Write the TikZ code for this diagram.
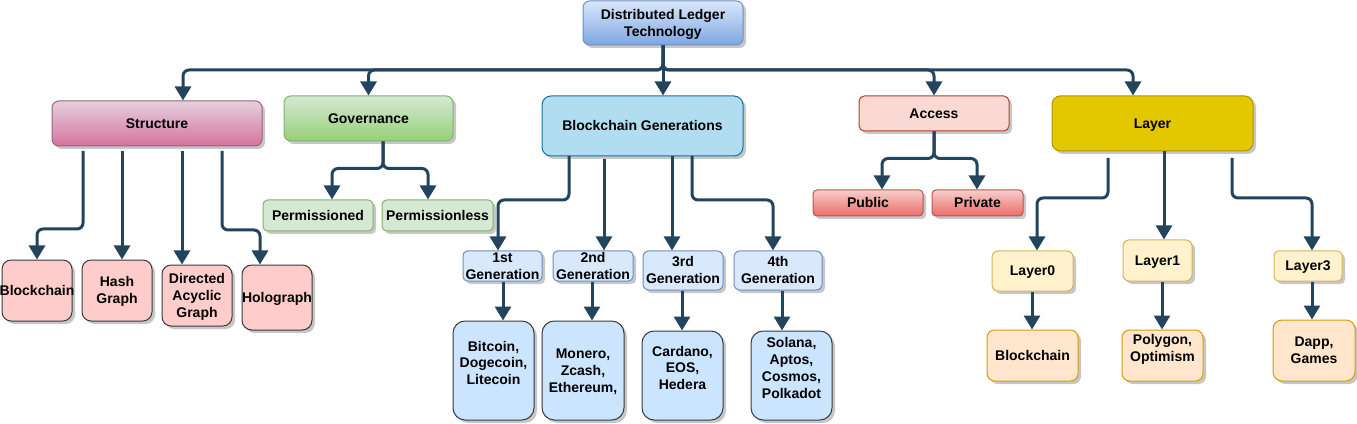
\documentclass[tikz,border=0pt]{standalone}
\usepackage{fontspec}
\setmainfont{Liberation Sans}
\usetikzlibrary{shadows,arrows.meta,calc}
\definecolor{lineC}{HTML}{23445D}
\definecolor{rootT}{HTML}{DAE8FC}\definecolor{rootB}{HTML}{7EA6E0}\definecolor{rootD}{HTML}{6C8EBF}
\definecolor{stT}{HTML}{E6D0DE}\definecolor{stB}{HTML}{D5739D}\definecolor{stD}{HTML}{996185}
\definecolor{gvT}{HTML}{D5E8D4}\definecolor{gvB}{HTML}{97D077}\definecolor{gvD}{HTML}{82B366}
\definecolor{bgF}{HTML}{B1DDF0}\definecolor{bgD}{HTML}{10739E}
\definecolor{acF}{HTML}{FAD9D5}\definecolor{acD}{HTML}{AE4132}
\definecolor{lyF}{HTML}{E3C800}\definecolor{lyD}{HTML}{B09500}
\definecolor{puT}{HTML}{F8CECC}\definecolor{puB}{HTML}{EA6B66}\definecolor{puD}{HTML}{B85450}
\definecolor{scF}{HTML}{FFCCCC}\definecolor{dkD}{HTML}{36393D}
\definecolor{gnF}{HTML}{DAE8FC}\definecolor{gnD}{HTML}{6C8EBF}
\definecolor{gcF}{HTML}{CCE5FF}
\definecolor{l2F}{HTML}{FFF2CC}\definecolor{l2D}{HTML}{D6B656}
\definecolor{l3F}{HTML}{FFE6CC}\definecolor{l3D}{HTML}{D79B00}
\newcommand\mkbox[8]{%
  \pgfmathsetmacro\rr{min(#5,#6)*0.1125}%
  \node[#1, rounded corners=\rr pt, minimum width=#5*0.75pt, minimum height=#6*0.75pt] (#2) at (#3,#4) {};
  \node[txt] (#2-t) at (#3,#4+#8) {\rule{0pt}{9.5pt}#7\rule[-2.226pt]{0pt}{0pt}};}
\begin{document}
\begin{tikzpicture}[x=0.75pt,y=-0.75pt,
  conn/.style={draw=lineC, line width=2.25pt, rounded corners=4.5pt, -{Triangle[width=12pt,length=10.5pt]}},
  bshape/.style={draw, line width=0.75pt, inner sep=0pt,
    drop shadow={shadow xshift=2.25pt,shadow yshift=-2.25pt,fill=black,opacity=0.22}},
  txt/.style={font=\fontsize{10.5pt}{12.6pt}\selectfont\bfseries, align=center, inner sep=0pt},
  rootS/.style={bshape, top color=rootT, bottom color=rootB, draw=rootD},
  stS/.style={bshape, top color=stT, bottom color=stB, draw=stD},
  gvS/.style={bshape, top color=gvT, bottom color=gvB, draw=gvD},
  bgS/.style={bshape, fill=bgF, draw=bgD},
  acS/.style={bshape, fill=acF, draw=acD},
  lyS/.style={bshape, fill=lyF, draw=lyD},
  pmS/.style={bshape, fill=gvT, draw=gvD},
  puS/.style={bshape, top color=puT, bottom color=puB, draw=puD},
  scS/.style={bshape, fill=scF, draw=dkD},
  gnS/.style={bshape, fill=gnF, draw=gnD},
  gcS/.style={bshape, fill=gcF, draw=dkD},
  l2S/.style={bshape, fill=l2F, draw=l2D},
  l3S/.style={bshape, fill=l3F, draw=l3D}]
\useasboundingbox (0,0) rectangle (1357,424);

% ---- boxes
\mkbox{rootS}{root}{663}{23}{160}{44}{Distributed Ledger\\Technology}{0}
\mkbox{stS}{structure}{157}{123.5}{210}{45}{Structure}{0}
\mkbox{gvS}{gov}{368.5}{118.5}{169}{45}{Governance}{0}
\mkbox{bgS}{bg}{642.5}{126}{201}{60}{Blockchain Generations}{0}
\mkbox{acS}{access}{934}{113.5}{150}{35}{Access}{0}
\mkbox{lyS}{layer}{1152.5}{123.5}{201}{55}{Layer}{0}

\mkbox{pmS}{perm1}{318}{215.5}{110}{31}{Permissioned}{0}
\mkbox{pmS}{perm2}{437.5}{215.5}{111}{31}{Permissionless}{0}
\mkbox{puS}{public}{868}{203}{110}{26}{Public}{0}
\mkbox{puS}{private}{977.5}{203}{91}{26}{Private}{0}

\mkbox{scS}{sc1}{37}{290.5}{70}{61}{Blockchain}{0}
\mkbox{scS}{sc2}{117}{290.5}{70}{61}{Hash\\Graph}{0}
\mkbox{scS}{sc3}{197}{295.5}{70}{61}{Directed\\Acyclic\\Graph}{0}
\mkbox{scS}{sc4}{277}{297.5}{70}{65}{Holograph}{0}

\mkbox{gnS}{g1}{502.5}{266}{79}{30}{1st\\Generation}{0}
\mkbox{gnS}{g2}{593}{266}{80}{30}{2nd\\Generation}{0}
\mkbox{gnS}{g3}{683}{270.5}{80}{39}{3rd\\Generation}{0}
\mkbox{gnS}{g4}{778}{270.5}{88}{39}{4th\\Generation}{0}

\mkbox{gcS}{c1}{493.5}{370.5}{81}{99}{Bitcoin,\\Dogecoin,\\Litecoin}{-7.5}
\mkbox{gcS}{c2}{583}{370.5}{82}{99}{Monero,\\Zcash,\\Ethereum,}{0}
\mkbox{gcS}{c3}{682.5}{375.5}{81}{89}{Cardano,\\EOS,\\Hedera}{-7.5}
\mkbox{gcS}{c4}{791.5}{375.5}{81}{89}{Solana,\\Aptos,\\Cosmos,\\Polkadot}{-7.5}

\mkbox{l2S}{l0}{1032.5}{271}{81}{40}{Layer0}{0}
\mkbox{l2S}{l1}{1157.5}{260.5}{69}{41}{Layer1}{0}
\mkbox{l2S}{l3}{1308}{266}{68}{30}{Layer3}{0}

\mkbox{l3S}{lc0}{1032.5}{355.5}{91}{51}{Blockchain}{0}
\mkbox{l3S}{lc1}{1162.5}{355.5}{81}{51}{Polygon,\\Optimism}{-7.5}
\mkbox{l3S}{lc3}{1314}{350.5}{82}{61}{Dapp,\\Games}{0}

% ---- helper coordinates
\coordinate (busY) at (0,70);
\coordinate (xS) at (183,0);
\coordinate (xL) at (1133,0);
\coordinate (xG) at (383,0);
\coordinate (xP1) at (332,0);
\coordinate (xP2) at (428,0);
\coordinate (xPu) at (882,0);
\coordinate (xPr) at (977,0);
\coordinate (s1) at (83,151);
\coordinate (s2) at (122,151);
\coordinate (s3) at (182,151);
\coordinate (s4) at (222,151);
\coordinate (x37) at (37,0);
\coordinate (x260) at (260,0);
\coordinate (b1) at (569,156);
\coordinate (b2) at (604,159);
\coordinate (b3) at (672,156);
\coordinate (b4) at (692,156);
\coordinate (x498) at (498,0);
\coordinate (x773) at (773,0);
\coordinate (x503) at (503,0);
\coordinate (x592) at (592,0);
\coordinate (x682) at (682,0);
\coordinate (x782) at (782,0);
\coordinate (la) at (1108,158);
\coordinate (lb) at (1164,151);
\coordinate (lc) at (1232,158);
\coordinate (x1037) at (1037,0);
\coordinate (x1312) at (1312,0);
\coordinate (x1032) at (1032,0);
\coordinate (x1162) at (1162,0);

% ---- connectors from root
\draw[conn] (root.south) -- (root.south |- busY) -| (xS |- structure.north);
\draw[conn] (root.south) -- (root.south |- busY) -| (gov.north);
\draw[conn] (root.south) -- (root.south |- bg.north);
\draw[conn] (root.south) -- (root.south |- busY) -| (access.north);
\draw[conn] (root.south) -- (root.south |- busY) -| (xL |- layer.north);

% governance
\draw[conn] (xG |- gov.south) -- ++(0,27) -| (xP1 |- perm1.north);
\draw[conn] (xG |- gov.south) -- ++(0,27) -| (xP2 |- perm2.north);
% access
\draw[conn] (access.south) -- ++(0,27) -| (xPu |- public.north);
\draw[conn] (access.south) -- ++(0,27) -| (xPr |- private.north);
% structure
\draw[conn] (s1) -- ++(0,78) -| (x37 |- sc1.north);
\draw[conn] (s2) -- (s2 |- sc2.north);
\draw[conn] (s3) -- (s3 |- sc3.north);
\draw[conn] (s4) -- ++(0,79) -| (x260 |- sc4.north);
% generations
\draw[conn] (b1) -- ++(0,44) -| (x498 |- g1.north);
\draw[conn] (b2) -- (b2 |- g2.north);
\draw[conn] (b3) -- (b3 |- g3.north);
\draw[conn] (b4) -- ++(0,44) -| (x773 |- g4.north);
\draw[conn] (x503 |- g1.south) -- (x503 |- c1.north);
\draw[conn] (x592 |- g2.south) -- (x592 |- c2.north);
\draw[conn] (x682 |- g3.south) -- (x682 |- c3.north);
\draw[conn] (x782 |- g4.south) -- (x782 |- c4.north);
% layers
\draw[conn] (la) -- ++(0,40) -| (x1037 |- l0.north);
\draw[conn] (lb) -- (lb |- l1.north);
\draw[conn] (lc) -- ++(0,40) -| (x1312 |- l3.north);
\draw[conn] (x1032 |- l0.south) -- (x1032 |- lc0.north);
\draw[conn] (x1162 |- l1.south) -- (x1162 |- lc1.north);
\draw[conn] (x1312 |- l3.south) -- (x1312 |- lc3.north);
\end{tikzpicture}
\end{document}
